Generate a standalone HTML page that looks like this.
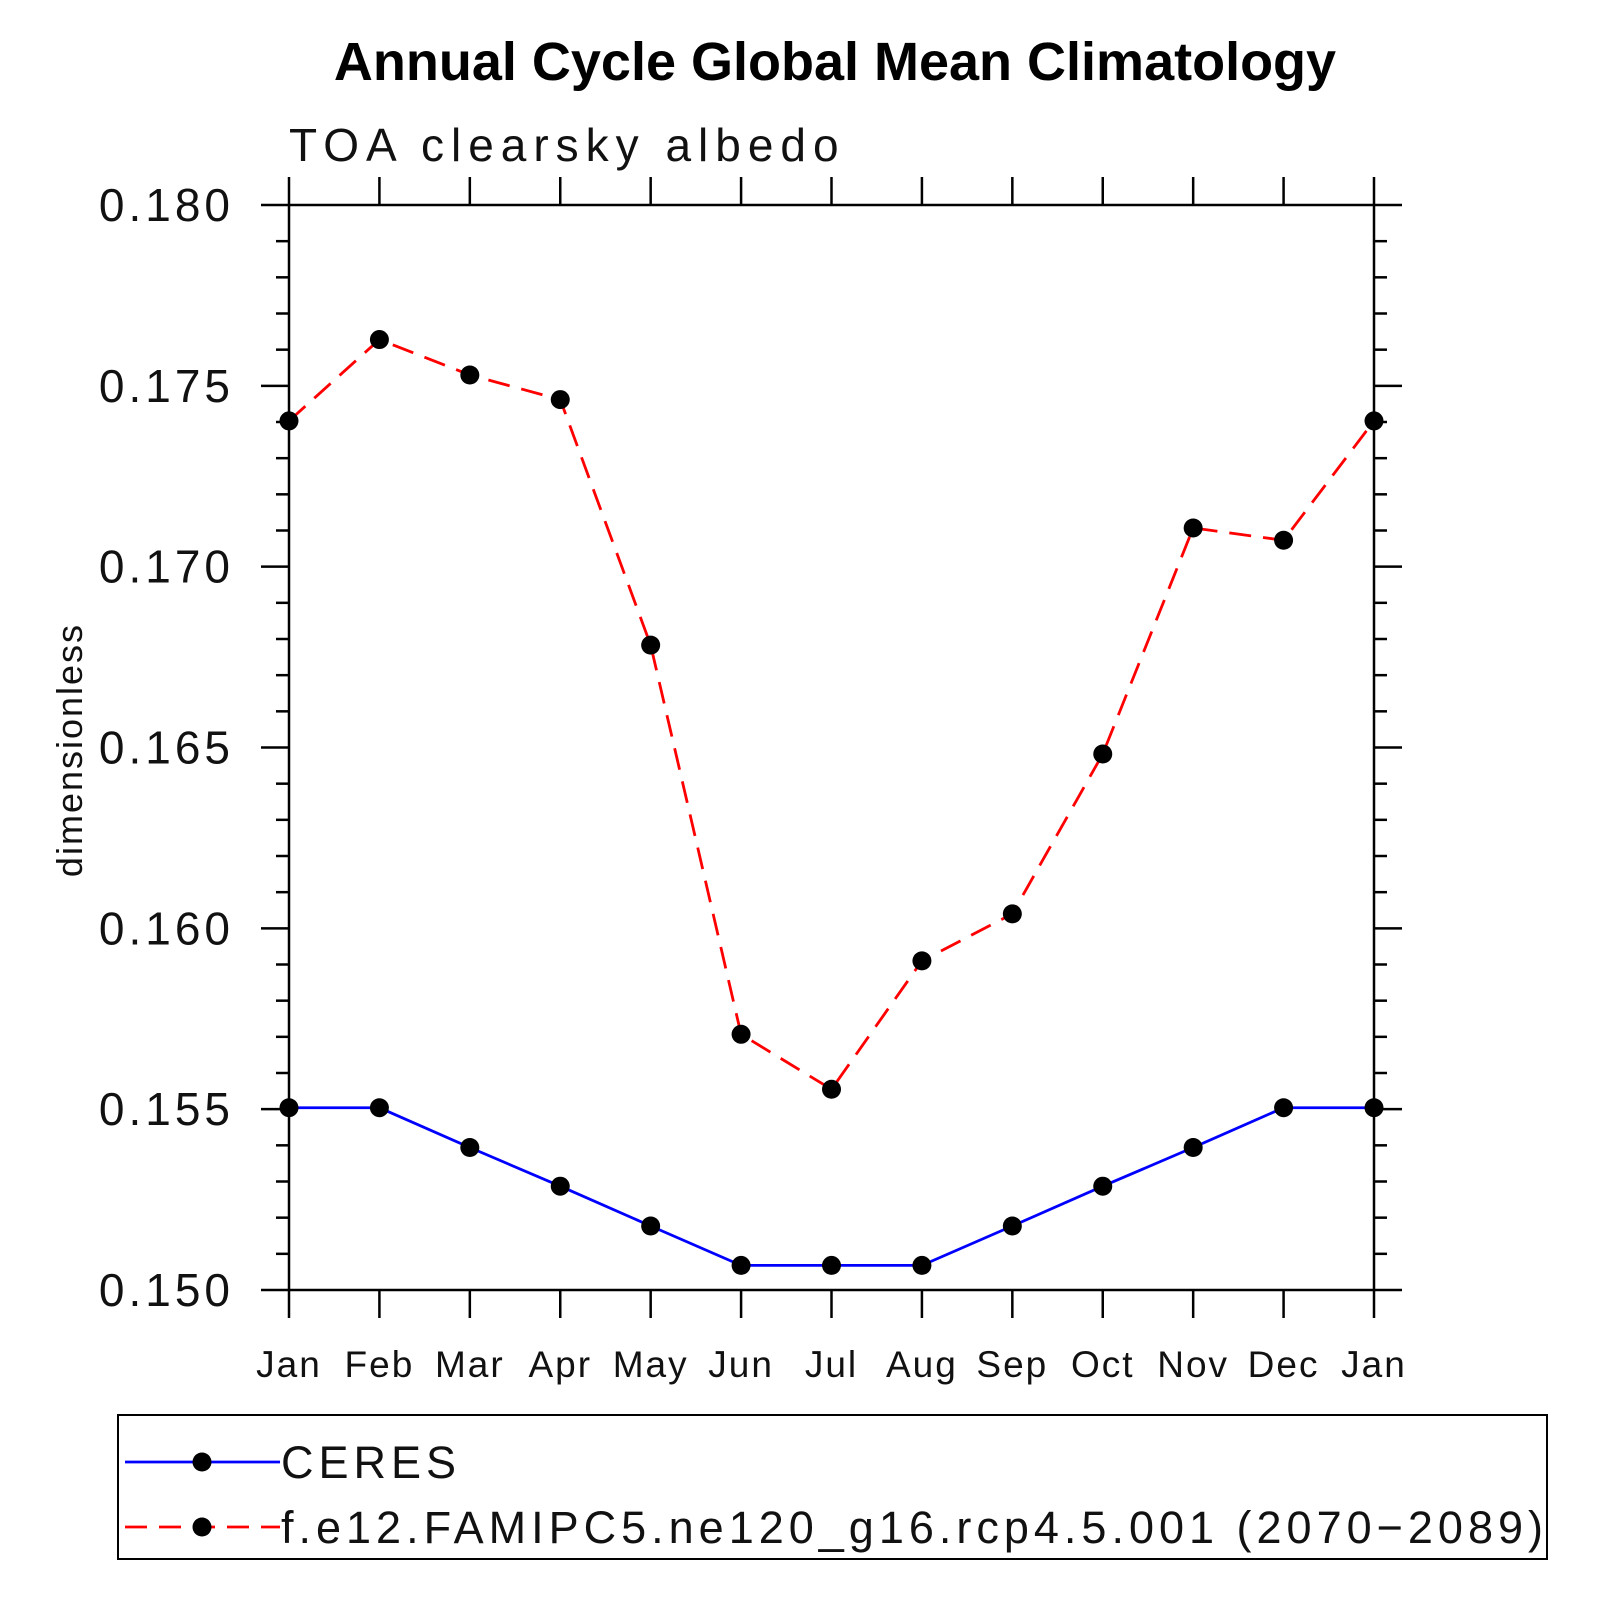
<!DOCTYPE html>
<html><head><meta charset="utf-8"><style>
html,body{margin:0;padding:0;background:#fff;}
svg{display:block;}
text{font-family:"Liberation Sans",sans-serif;}
</style></head><body>
<svg id="chart" width="1597" height="1597" viewBox="0 0 1597 1597" xmlns="http://www.w3.org/2000/svg">
<text x="835" y="80" text-anchor="middle" font-size="54" font-weight="bold">Annual Cycle Global Mean Climatology</text>
<text x="289" y="161" font-size="46" letter-spacing="7" fill="#111">TOA clearsky albedo</text>
<text transform="translate(82,750) rotate(-90)" text-anchor="middle" font-size="36" letter-spacing="2" fill="#111">dimensionless</text>
<g id="axes"></g>
<g id="series"></g>
<g id="legend"></g>
</svg>
<script>
const months = ["Jan","Feb","Mar","Apr","May","Jun","Jul","Aug","Sep","Oct","Nov","Dec","Jan"];
const ceres = [0.15504,0.15504,0.15394,0.15287,0.15177,0.15068,0.15068,0.15068,0.15177,0.15287,0.15394,0.15504,0.15504];
const model = [0.17403,0.17628,0.17530,0.17462,0.16783,0.15707,0.15555,0.15910,0.16040,0.16482,0.17107,0.17073,0.17403];
const yTicks = [0.150,0.155,0.160,0.165,0.170,0.175,0.180];
const yTickLabels = ["0.150","0.155","0.160","0.165","0.170","0.175","0.180"];
const seriesNames = ["CERES","f.e12.FAMIPC5.ne120_g16.rcp4.5.001 (2070\u22122089)"];

const NS="http://www.w3.org/2000/svg";
const L=289,R=1374,T=205,B=1290,yMin=0.150,yMax=0.180;
const xs=i=>L+(R-L)*i/(months.length-1);
const ys=v=>B-(B-T)*(v-yMin)/(yMax-yMin);
function mk(tag,attrs,parent){const e=document.createElementNS(NS,tag);for(const k in attrs)e.setAttribute(k,attrs[k]);parent.appendChild(e);return e;}
const axes=document.getElementById('axes');
const frame=mk('rect',{x:L,y:T,width:R-L,height:B-T,fill:'none',stroke:'#000','stroke-width':2.5},axes);


for(let v=yMin;v<=yMax+1e-9;v+=0.001){
  const y=ys(v);const major=Math.abs(Math.round(v*200)-v*200)<1e-6;
  const len=major?28:13;
  const t1=mk('line',{x1:L-len,x2:L,y1:y,y2:y,stroke:'#000','stroke-width':2.5},axes);
  
  
  const t2=mk('line',{x1:R,x2:R+len,y1:y,y2:y,stroke:'#000','stroke-width':2.5},axes);
  
  
}
yTicks.forEach((v,i)=>{
  const t=mk('text',{x:234,y:ys(v)+16,'text-anchor':'end','font-size':46,'letter-spacing':4,fill:'#111'},axes);
  t.textContent=yTickLabels[i];
  
  
});
months.forEach((m,i)=>{
  const x=xs(i);
  const b=mk('line',{x1:x,x2:x,y1:B,y2:B+28,stroke:'#000','stroke-width':2.5},axes);
  
  
  const tp=mk('line',{x1:x,x2:x,y1:T-28,y2:T,stroke:'#000','stroke-width':2.5},axes);
  
  
  const t=mk('text',{x:x,y:1377,'text-anchor':'middle','font-size':37,'letter-spacing':2,fill:'#111'},axes);
  t.textContent=m;
  
  
});
const sg=document.getElementById('series');
function drawSeries(vals,color,dash,name){
  const pts=vals.map((v,i)=>xs(i)+','+ys(v)).join(' ');
  const pl=mk('polyline',{points:pts,fill:'none',stroke:color,'stroke-width':2.8,'stroke-dasharray':dash},sg);
  
  
  vals.forEach((v,i)=>{
    const c=mk('circle',{cx:xs(i),cy:ys(v),r:9.5,fill:'#000'},sg);
    
    
  });
}
drawSeries(ceres,'#0000ff','none','ceres');
drawSeries(model,'#ff0000','22,12','model');
const lg=document.getElementById('legend');
const box=mk('rect',{x:118,y:1415,width:1429,height:144,fill:'none',stroke:'#000','stroke-width':2},lg);


const rows=[{y:1462,c:'#0000ff',d:'none'},{y:1527,c:'#ff0000',d:'22,12'}];
rows.forEach((r,i)=>{
  const ln=mk('line',{x1:125,x2:280,y1:r.y,y2:r.y,stroke:r.c,'stroke-width':2.8,'stroke-dasharray':r.d},lg);
  
  
  const c=mk('circle',{cx:202,cy:r.y,r:9.5,fill:'#000'},lg);
  
  
  const t=mk('text',{x:281,y:r.y+16,'font-size':45,'letter-spacing':5,fill:'#111'},lg);
  t.textContent=seriesNames[i];
  
  
});
</script>
</body></html>
